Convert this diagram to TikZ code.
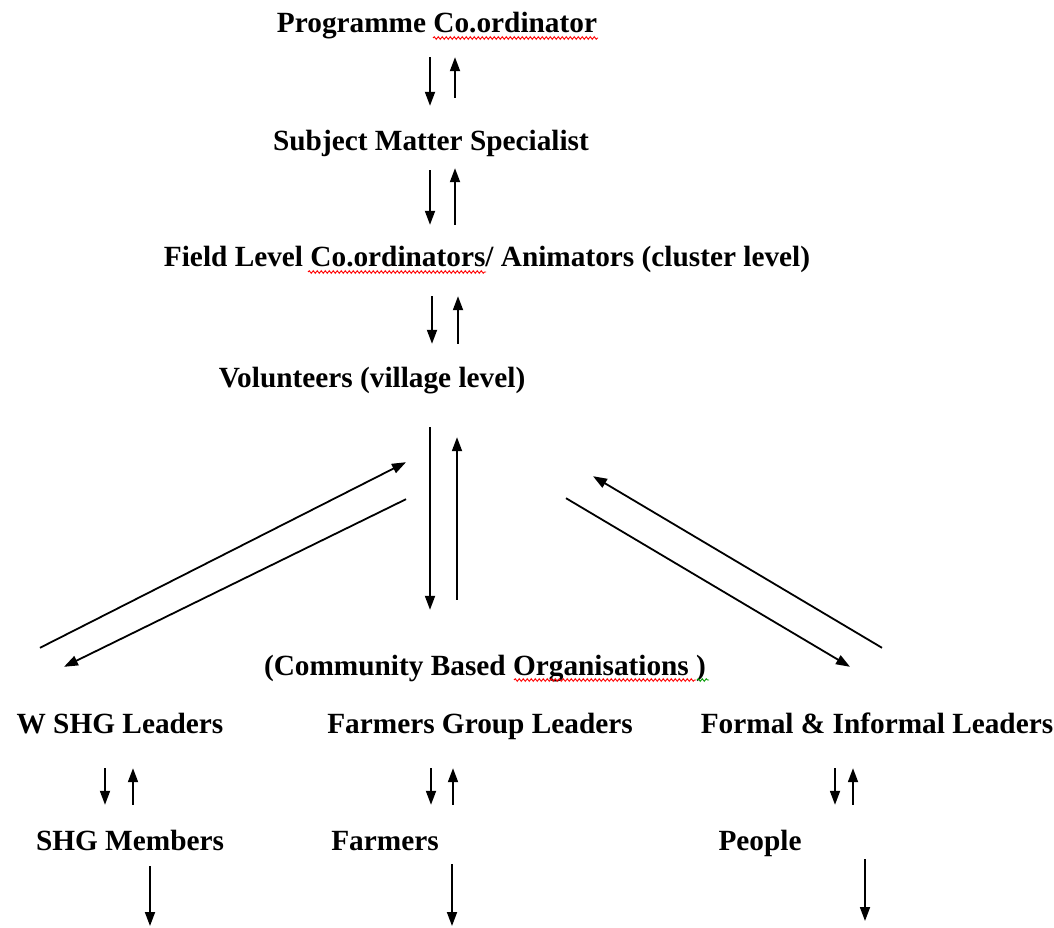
\documentclass[tikz,border=0pt]{standalone}
\usepackage{fontspec}
\setmainfont{Liberation Serif}
\usetikzlibrary{arrows.meta, decorations.pathmorphing}

\tikzset{
  level/.style={font=\fontsize{29.3}{35}\selectfont\bfseries, inner sep=0pt,
    text height=21pt, text depth=6pt, anchor=base},
  arr/.style={-{Triangle[length=14pt, width=10pt]}, line width=1.8pt, black},
  typo/.style={red, line width=0.9pt, decorate,
    decoration={snake, amplitude=1.3pt, segment length=4pt}},
}

\begin{document}
\begin{tikzpicture}[x=1pt, y=-1pt]
\useasboundingbox (0,0) rectangle (1054,928);

% --- Staff levels ---
\node[level] (prog)  at (437,33)  {Programme Co.ordinator};
\node[level] (subj)  at (431,151) {Subject Matter Specialist};
\node[level] (field) at (487,266) {Field Level Co.ordinators/ Animators (cluster level)};
\node[level] (vol)   at (372,387) {Volunteers (village level)};

% --- Community level ---
\node[level] (cbo)   at (485,675) {(Community Based Organisations )};
\node[level] (wshg)  at (120,733) {W SHG Leaders};
\node[level] (fgl)   at (480,733) {Farmers Group Leaders};
\node[level] (fil)   at (877,733) {Formal \& Informal Leaders};
\node[level] (shgm)  at (130,850) {SHG Members};
\node[level] (farm)  at (385,850) {Farmers};
\node[level] (peop)  at (760,850) {People};

% free ends of the last arrows
\coordinate (shgmend) at (150,926);
\coordinate (farmend) at (452,926);
\coordinate (peopend) at (865,921);

% --- Up and down between staff levels ---
\draw[arr] ([shift={(-7,18)}]prog.south) -- ([shift={(-1,-24)}]subj.north);
\draw[arr] ([shift={(24,-32)}]subj.north) -- ([shift={(18,18)}]prog.south);
\draw[arr] ([shift={(-1,13)}]subj.south) -- ([shift={(-57,-20)}]field.north);
\draw[arr] ([shift={(-32,-20)}]field.north) -- ([shift={(24,11)}]subj.south);
\draw[arr] ([shift={(-55,24)}]field.south) -- ([shift={(60,-22)}]vol.north);
\draw[arr] ([shift={(86,-22)}]vol.north) -- ([shift={(-29,24)}]field.south);

% --- Volunteers to the organisations ---
\draw[arr] ([shift={(58,34)}]vol.south) -- ([shift={(-55,-44)}]cbo.north);
\draw[arr] ([shift={(-28,-54)}]cbo.north) -- ([shift={(85,44)}]vol.south);
\draw[arr] ([shift={(-80,-64)}]wshg.north) -- ([shift={(34,69)}]vol.south);
\draw[arr] ([shift={(34,106)}]vol.south) -- ([shift={(-56,-45)}]wshg.north);
\draw[arr] ([shift={(5,-64)}]fil.north) -- ([shift={(221,83)}]vol.south);
\draw[arr] ([shift={(194,105)}]vol.south) -- ([shift={(-27,-45)}]fil.north);

% --- Leaders to members ---
\draw[arr] ([shift={(-15,29)}]wshg.south) -- ([shift={(-25,-24)}]shgm.north);
\draw[arr] ([shift={(3,-24)}]shgm.north) -- ([shift={(13,29)}]wshg.south);
\draw[arr] ([shift={(-49,29)}]fgl.south) -- ([shift={(46,-24)}]farm.north);
\draw[arr] ([shift={(68,-24)}]farm.north) -- ([shift={(-27,29)}]fgl.south);
\draw[arr] ([shift={(-42,29)}]fil.south) -- ([shift={(75,-24)}]peop.north);
\draw[arr] ([shift={(93,-24)}]peop.north) -- ([shift={(-24,29)}]fil.south);

% --- Out to the members ---
\draw[arr] ([shift={(20,10)}]shgm.south) -- (shgmend);
\draw[arr] ([shift={(67,8)}]farm.south) -- (farmend);
\draw[arr] ([shift={(105,3)}]peop.south) -- (peopend);

% spelling marks under the words
\draw[typo] (433,38) -- (598,38);
\draw[typo] (308,272) -- (486,272);
\draw[typo] (514,680) -- (696,680);
\draw[typo, green!60!black] (697,680) -- (709,680);

\end{tikzpicture}
\end{document}
